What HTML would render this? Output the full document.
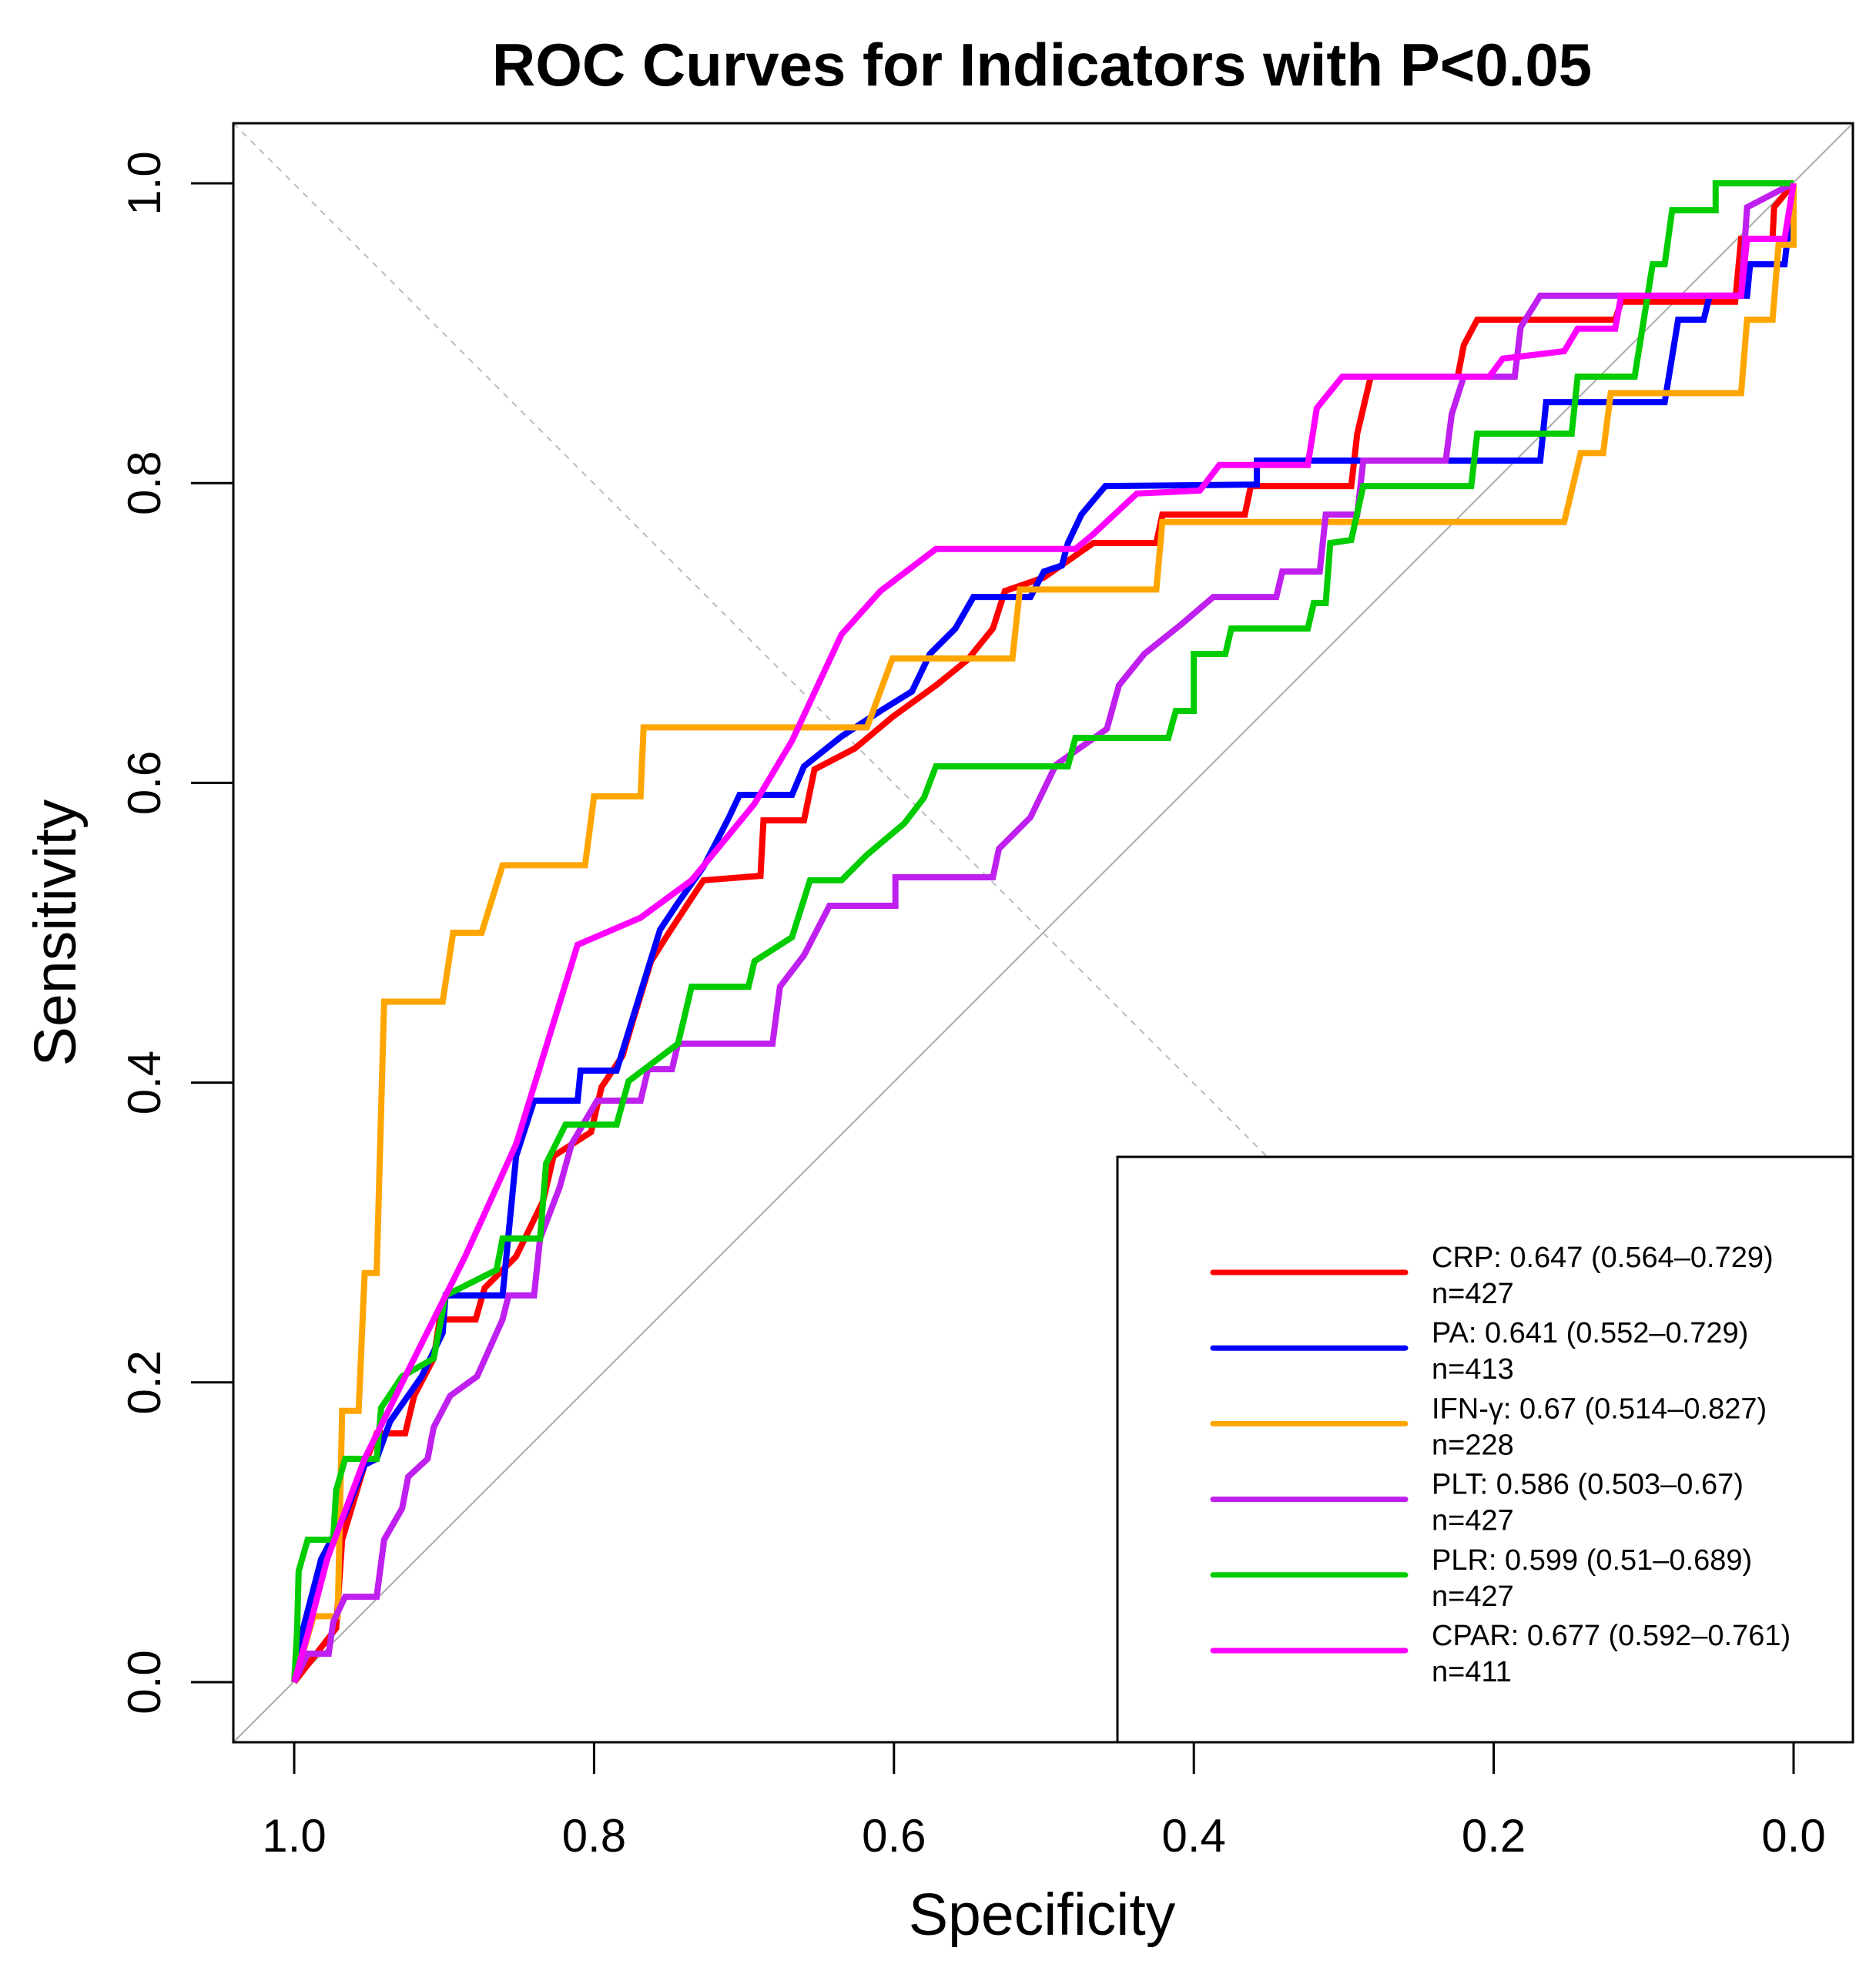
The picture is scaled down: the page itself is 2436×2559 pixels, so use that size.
<!DOCTYPE html>
<html><head><meta charset="utf-8"><style>
html,body{margin:0;padding:0;background:#fff;}
svg{display:block;font-family:"Liberation Sans",Arial,sans-serif;}
</style></head>
<body>
<svg id="chart" xmlns="http://www.w3.org/2000/svg" width="2436" height="2559" viewBox="0 0 2436 2559">
<rect x="0" y="0" width="2436" height="2559" fill="#fff"/>
<text x="1353" y="111" font-size="78" font-weight="bold" text-anchor="middle">ROC Curves for Indicators with P&lt;0.05</text>
<g id="plot"></g>
<rect x="303" y="160" width="2103" height="2102" fill="none" stroke="#000" stroke-width="3"/>
<text x="1353" y="2512" font-size="77" text-anchor="middle">Specificity</text>
<text transform="translate(98,1211) rotate(-90)" font-size="77" text-anchor="middle">Sensitivity</text>
</svg>
<script>
const ticks = [1.0, 0.8, 0.6, 0.4, 0.2, 0.0];
const tickLabels = ["1.0","0.8","0.6","0.4","0.2","0.0"];
const yTicks = [0.0, 0.2, 0.4, 0.6, 0.8, 1.0];
const yTickLabels = ["0.0","0.2","0.4","0.6","0.8","1.0"];
const seriesNames = ["CRP","PA","IFN-γ","PLT","PLR","CPAR"];
const seriesColors = ["#ff0000","#0000ff","#ffa500","#bf1fef","#00cc00","#ff00ff"];
const legendText = ["CRP: 0.647 (0.564–0.729)","PA: 0.641 (0.552–0.729)","IFN-γ: 0.67 (0.514–0.827)","PLT: 0.586 (0.503–0.67)","PLR: 0.599 (0.51–0.689)","CPAR: 0.677 (0.592–0.761)"];
const legendN = ["n=427","n=413","n=228","n=427","n=427","n=411"];

const crpSpec = [1,0.972,0.968,0.953,0.945,0.926,0.920,0.907,0.903,0.879,0.873,0.852,0.834,0.827,0.802,0.795,0.781,0.773,0.762,0.752,0.737,0.727,0.689,0.687,0.660,0.653,0.626,0.601,0.572,0.551,0.534,0.526,0.500,0.467,0.425,0.421,0.366,0.362,0.295,0.291,0.282,0.224,0.220,0.211,0.119,0.115,0.039,0.035,0.014,0.013,0];
const crpSens = [0,0.036,0.095,0.145,0.166,0.166,0.191,0.216,0.242,0.242,0.263,0.284,0.321,0.351,0.367,0.397,0.418,0.445,0.481,0.497,0.520,0.535,0.538,0.575,0.575,0.609,0.623,0.644,0.665,0.682,0.703,0.728,0.737,0.760,0.760,0.779,0.779,0.798,0.798,0.833,0.871,0.871,0.892,0.909,0.909,0.921,0.921,0.963,0.963,0.984,1.0];

const paSpec = [1,0.995,0.982,0.966,0.953,0.945,0.936,0.915,0.901,0.899,0.861,0.852,0.840,0.811,0.809,0.785,0.769,0.756,0.744,0.727,0.710,0.703,0.668,0.660,0.635,0.609,0.588,0.576,0.559,0.547,0.509,0.500,0.488,0.484,0.475,0.459,0.358,0.358,0.169,0.165,0.086,0.077,0.060,0.056,0.031,0.029,0.006,0];
const paSens = [0,0.032,0.082,0.112,0.145,0.149,0.174,0.204,0.233,0.258,0.258,0.351,0.388,0.388,0.408,0.408,0.460,0.502,0.520,0.544,0.577,0.592,0.592,0.611,0.631,0.648,0.661,0.686,0.703,0.724,0.724,0.741,0.745,0.760,0.779,0.798,0.799,0.815,0.815,0.854,0.854,0.909,0.909,0.925,0.925,0.946,0.946,1.0];

const ifnSpec = [1,0.987,0.971,0.968,0.957,0.953,0.945,0.940,0.901,0.894,0.875,0.861,0.806,0.800,0.769,0.767,0.618,0.601,0.521,0.516,0.425,0.421,0.153,0.142,0.127,0.122,0.035,0.031,0.014,0.010,0,0];
const ifnSens = [0,0.044,0.044,0.181,0.181,0.273,0.273,0.454,0.454,0.500,0.500,0.545,0.545,0.591,0.591,0.637,0.637,0.683,0.683,0.729,0.729,0.774,0.774,0.820,0.820,0.860,0.860,0.909,0.909,0.959,0.959,1.0];

const pltSpec = [1,0.991,0.977,0.974,0.966,0.945,0.940,0.928,0.924,0.911,0.907,0.896,0.878,0.861,0.857,0.840,0.836,0.823,0.815,0.798,0.769,0.764,0.748,0.744,0.681,0.676,0.660,0.643,0.599,0.599,0.534,0.530,0.509,0.492,0.458,0.450,0.433,0.408,0.387,0.345,0.341,0.316,0.312,0.291,0.287,0.232,0.228,0.220,0.186,0.182,0.169,0.035,0.031,0.006,0];
const pltSens = [0,0.019,0.019,0.040,0.057,0.057,0.095,0.116,0.137,0.149,0.170,0.191,0.204,0.242,0.258,0.258,0.296,0.330,0.359,0.388,0.388,0.409,0.409,0.426,0.426,0.464,0.485,0.518,0.518,0.537,0.537,0.556,0.577,0.612,0.636,0.665,0.686,0.706,0.724,0.724,0.741,0.741,0.779,0.779,0.815,0.815,0.846,0.871,0.871,0.904,0.925,0.925,0.984,0.997,1.0];

const plrSpec = [1,0.998,0.997,0.991,0.974,0.972,0.966,0.945,0.942,0.928,0.907,0.899,0.865,0.861,0.836,0.832,0.819,0.785,0.777,0.744,0.735,0.697,0.693,0.668,0.656,0.635,0.618,0.593,0.580,0.572,0.484,0.479,0.417,0.412,0.400,0.400,0.379,0.375,0.324,0.320,0.312,0.309,0.295,0.287,0.215,0.211,0.148,0.144,0.106,0.102,0.094,0.086,0.081,0.052,0.052,0];
const plrSens = [0,0.036,0.074,0.095,0.095,0.128,0.149,0.149,0.183,0.204,0.216,0.258,0.275,0.296,0.296,0.346,0.372,0.372,0.401,0.426,0.464,0.464,0.481,0.497,0.535,0.535,0.552,0.573,0.590,0.611,0.611,0.630,0.630,0.648,0.648,0.686,0.686,0.703,0.703,0.720,0.720,0.760,0.762,0.798,0.798,0.833,0.833,0.871,0.871,0.896,0.946,0.946,0.982,0.982,1.0,1.0];

const cparSpec = [1,0.991,0.978,0.953,0.920,0.886,0.852,0.811,0.769,0.735,0.693,0.668,0.635,0.609,0.572,0.479,0.467,0.438,0.396,0.383,0.324,0.318,0.301,0.203,0.194,0.153,0.144,0.119,0.115,0.035,0.031,0.006,0];
const cparSens = [0,0.032,0.082,0.149,0.216,0.284,0.359,0.492,0.510,0.535,0.586,0.628,0.699,0.728,0.756,0.756,0.766,0.793,0.795,0.812,0.812,0.850,0.871,0.871,0.883,0.888,0.903,0.903,0.925,0.925,0.963,0.963,1.0];

const allSpec = [crpSpec, paSpec, ifnSpec, pltSpec, plrSpec, cparSpec];
const allSens = [crpSens, paSens, ifnSens, pltSens, plrSens, cparSens];
const seriesKeys = ["crp","pa","ifn-gamma","plt","plr","cpar"];

const NS = "http://www.w3.org/2000/svg";
const X0 = 382, X1 = 2329, Y0 = 2184, Y1 = 238;
function xScale(spec){ return X0 + (1 - spec) * (X1 - X0); }
function yScale(sens){ return Y0 - sens * (Y0 - Y1); }
const svg = document.getElementById('chart');
const plot = document.getElementById('plot');
function mk(tag, attrs, parent){ const e = document.createElementNS(NS, tag); for (const k in attrs) e.setAttribute(k, attrs[k]); (parent||svg).appendChild(e); return e; }

let d1 = mk('line', {x1:303,y1:160,x2:2406,y2:2262,stroke:'#bbbbbb','stroke-width':2,'stroke-dasharray':'8,8'}, plot);


let d2 = mk('line', {x1:303,y1:2262,x2:2406,y2:160,stroke:'#aaaaaa','stroke-width':2}, plot);



for (let i = 0; i < ticks.length; i++) {
  const x = xScale(ticks[i]);
  const t = mk('line', {x1:x,y1:2262,x2:x,y2:2303,stroke:'#000','stroke-width':3});
  
  
  const l = mk('text', {x:x,y:2404,'font-size':60,'text-anchor':'middle'});
  l.textContent = tickLabels[i];
  
  
}
for (let i = 0; i < yTicks.length; i++) {
  const y = yScale(yTicks[i]);
  const t = mk('line', {x1:248,y1:y,x2:303,y2:y,stroke:'#000','stroke-width':3});
  
  
  const l = mk('text', {transform:'translate(208,'+y+') rotate(-90)','font-size':60,'text-anchor':'middle'});
  l.textContent = yTickLabels[i];
  
  
}

for (let s = 0; s < allSpec.length; s++) {
  const sp = allSpec[s], se = allSens[s];
  let pts = [];
  for (let i = 0; i < sp.length; i++) pts.push(xScale(sp[i]).toFixed(1) + ',' + yScale(se[i]).toFixed(1));
  const p = mk('polyline', {points: pts.join(' '), fill:'none', stroke: seriesColors[s], 'stroke-width':8, 'stroke-linejoin':'miter'}, plot);
  
  
}

const lg = mk('g', {});


const lbox = mk('rect', {x:1451,y:1502,width:955,height:760,fill:'#fff',stroke:'#000','stroke-width':3}, lg);


for (let s = 0; s < seriesNames.length; s++) {
  const y = 1652 + s * 98.2;
  const g = mk('g', {}, lg);
  
  
  const ln = mk('line', {x1:1575,y1:y,x2:1825,y2:y,stroke:seriesColors[s],'stroke-width':7,'stroke-linecap':'round'}, g);
  
  
  const t1 = mk('text', {x:1859,y:y-7,'font-size':38}, g);
  t1.textContent = legendText[s];
  
  
  const t2 = mk('text', {x:1859,y:y+40,'font-size':38}, g);
  t2.textContent = legendN[s];
  
  
}
</script>
</body></html>
